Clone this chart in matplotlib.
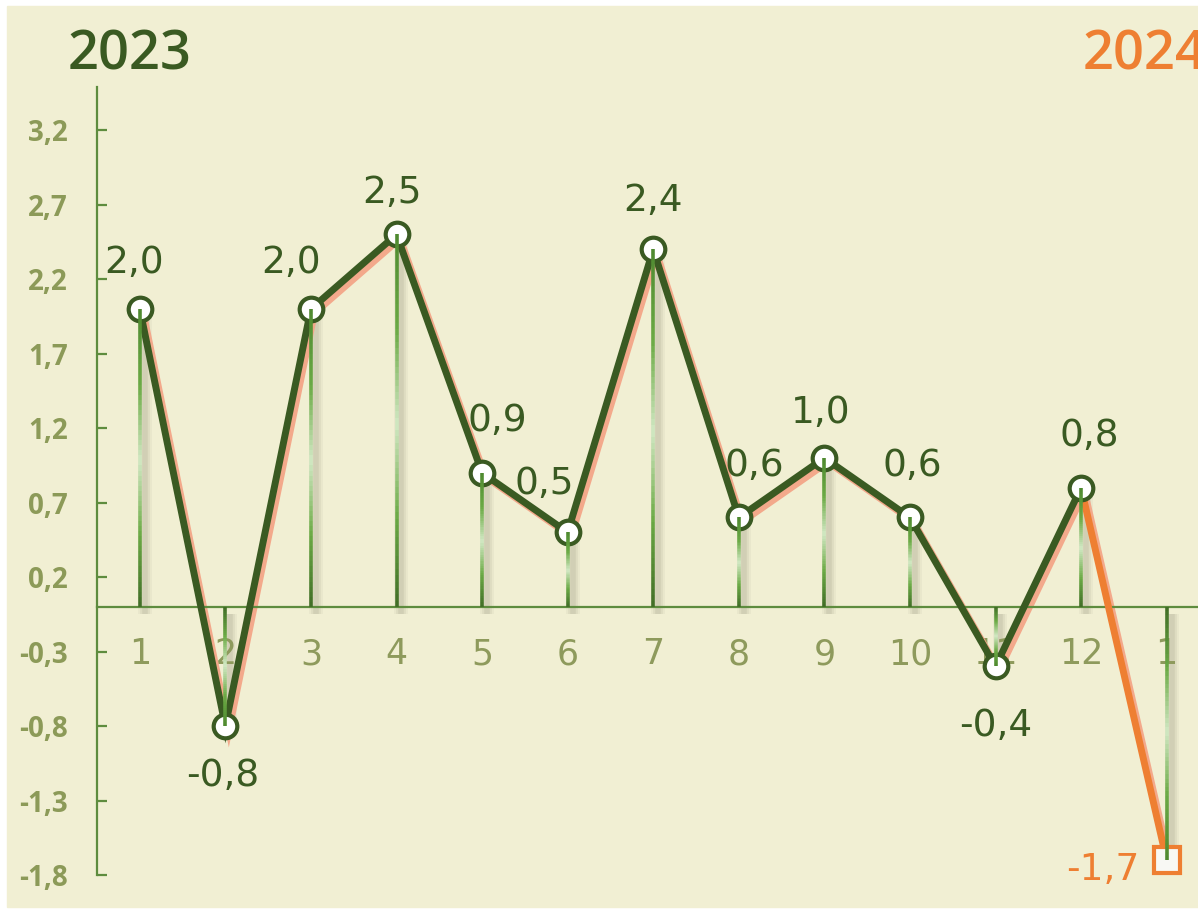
import numpy as np
import matplotlib.pyplot as plt
import matplotlib.transforms as mtransforms
from matplotlib.collections import LineCollection
from matplotlib.colors import LinearSegmentedColormap
from matplotlib.patches import Rectangle

months = ['1', '2', '3', '4', '5', '6', '7', '8', '9', '10', '11', '12', '1']
values = [2.0, -0.8, 2.0, 2.5, 0.9, 0.5, 2.4, 0.6, 1.0, 0.6, -0.4, 0.8, -1.7]
year_left = '2023'
year_right = '2024'
yticks = [-1.8, -1.3, -0.8, -0.3, 0.2, 0.7, 1.2, 1.7, 2.2, 2.7, 3.2]

# label offsets in points (dx, dy) from each point
label_offsets = [(-4, 33), (-2, -36), (-14, 33), (-3, 30), (11, 37), (-17, 35),
                 (0, 35), (11, 37), (-3, 32), (2, 37), (0, -43), (6, 37), (-46, -7)]

bg = '#F1EFD3'
dark = '#3A5A22'
orange = '#EE7F32'
salmon = '#F3A98B'
axis_green = '#5E8C3E'
olive = '#8C9A58'

fig = plt.figure(figsize=(11.98, 9.10), dpi=100)
fig.patches.append(Rectangle((7 / 1198, 3 / 910), 1 - 7 / 1198, 1 - 9 / 910,
                             transform=fig.transFigure, color=bg, zorder=-10))
ax = fig.add_axes([97 / 1198, 1 - 875 / 910, 1 - 97 / 1198, (875 - 87) / 910])
ax.set_facecolor('none')
ax.set_zorder(5)

x = np.arange(1, len(values) + 1)
y = np.array(values)

# drop lines with gradient
cmap = LinearSegmentedColormap.from_list('drop', ['#4F8A30', '#6BAA45', '#D2E8C4', '#6BAA45', '#3F6B25'])
shadow_tr = mtransforms.offset_copy(ax.transData, fig=fig, x=3.5, y=-5, units='points')
for xi, yi in zip(x, y):
    for lw, a in [(10, 0.05), (7, 0.07), (4, 0.09)]:
        ax.plot([xi, xi], [0, yi], color='#555540', lw=lw, alpha=a,
                transform=shadow_tr, zorder=1.5, solid_capstyle='butt')
    t = np.linspace(0, 1, 60)
    ys = yi * (1 - t)
    segs = [[(xi, ys[k]), (xi, ys[k + 1])] for k in range(len(t) - 1)]
    lc = LineCollection(segs, colors=cmap(t[:-1]), linewidths=2.6, zorder=6)
    ax.add_collection(lc)

# main line with salmon shadow
line_shadow = mtransforms.offset_copy(ax.transData, fig=fig, x=2.5, y=-3, units='points')
ax.plot(x, y, color=salmon, lw=5, transform=line_shadow, zorder=2, solid_joinstyle='miter')
ax.plot(x[:-1], y[:-1], color=dark, lw=5, zorder=3, solid_joinstyle='miter')
ax.plot(x[-2:], y[-2:], color=orange, lw=5, zorder=3)

# markers
ax.plot(x[:-1], y[:-1], 'o', ms=17, mfc='white', mec=dark, mew=3, zorder=4, lw=0)
ax.plot(x[-1:], y[-1:], 's', ms=19, mfc='#F8F8F4', mec=orange, mew=3, zorder=4, lw=0)

# data labels
for i, (xi, yi) in enumerate(zip(x, y)):
    col = orange if i == len(y) - 1 else dark
    ax.annotate(f"{yi:.1f}".replace('.', ','), (xi, yi), xytext=label_offsets[i],
                textcoords='offset points', ha='center', va='center',
                fontsize=27, color=col, zorder=7)

ax.set_xlim(0.5, 13.366)
ax.set_ylim(-1.8, 3.49)

for s in ['top', 'right']:
    ax.spines[s].set_visible(False)
ax.spines['left'].set_color(axis_green)
ax.spines['left'].set_linewidth(1.6)
ax.spines['bottom'].set_position(('data', 0))
ax.spines['bottom'].set_color(axis_green)
ax.spines['bottom'].set_linewidth(1.6)

ax.set_yticks(yticks)
ax.set_yticklabels([f"{v:.1f}".replace('.', ',') for v in yticks],
                   fontfamily='Open Sans', fontweight='bold', fontsize=20, color=olive)
ax.tick_params(axis='y', direction='in', length=7, width=1.6, color=axis_green, pad=21)

ax.set_xticks(x)
ax.set_xticklabels(months, fontsize=25, color='#8E9A5C')
ax.tick_params(axis='x', length=0, pad=22)

fig.text(68 / 1198, 1 - 70 / 910, year_left, fontsize=39, color=dark, va='baseline',
         fontfamily='Open Sans', fontweight='semibold')
fig.text(1083 / 1198, 1 - 70 / 910, year_right, fontsize=39, color=orange, va='baseline',
         fontfamily='Open Sans', fontweight='semibold')

plt.savefig('out.png', dpi=100)
